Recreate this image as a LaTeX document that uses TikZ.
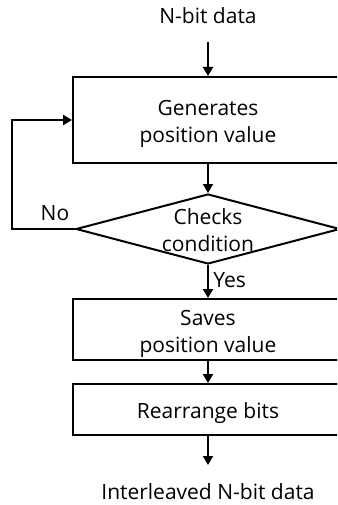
\documentclass[tikz,border=0pt]{standalone}
\usepackage{fontspec}
\setmainfont{Open Sans}
\usetikzlibrary{shapes.geometric,arrows.meta}
\begin{document}
\begin{tikzpicture}[x=1pt,y=-1pt,
  every node/.style={font=\fontsize{21}{27}\selectfont, align=center},
  procbox/.style={draw, line width=2pt, minimum width=270pt, inner sep=0pt},
  decision/.style={draw, diamond, line width=2pt, minimum width=264pt, minimum height=70pt, inner sep=0pt},
  flow/.style={line width=2.8pt, -{Triangle[length=9pt,width=10pt]}},
  plain/.style={inner sep=0pt},
  boxtext/.style={inner sep=0pt, yshift=-4pt}]
\useasboundingbox (0,0) rectangle (337,505);
\clip (0,0) rectangle (337,505);

% terminals
\node[plain] (in)  at (208,16)  {N-bit data};
\node[plain] (out) at (208,492) {Interleaved N-bit data};

% process steps (outlines)
\node[procbox, minimum height=86pt] (gen) at (208,120) {};
\node[decision] (chk) at (208,229) {};
\node[procbox, minimum height=61pt] (save) at (208,329.5) {};
\node[procbox, minimum height=51pt] (rearr) at (208,409.5) {};

% step texts
\node[boxtext] (gentxt) at (gen.center) {Generates\\position value};
\node[plain] (chktxt) at (208,230) {Checks\\condition};
\node[boxtext] (savetxt) at (save.center) {Saves\\position value};
\node[boxtext] (rearrtxt) at (rearr.center) {Rearrange bits};

% connectors
\coordinate (inend) at (208,42);
\coordinate (outend) at (208,465);
\draw[flow] (inend) -- (gen.north);
\draw[flow] (gen.south) -- (chk.north);
\draw[flow] (chk.south) -- node[plain, right=4pt, pos=0.45] (yes) {Yes} (save.north);
\draw[flow] (save.south) -- (rearr.north);
\draw[flow] (rearr.south) -- (outend);
\draw[flow] (chk.west) -- ++(-63,0) |- (gen.west);
\node[plain] (no) at (55,213) {No};
\end{tikzpicture}
\end{document}
